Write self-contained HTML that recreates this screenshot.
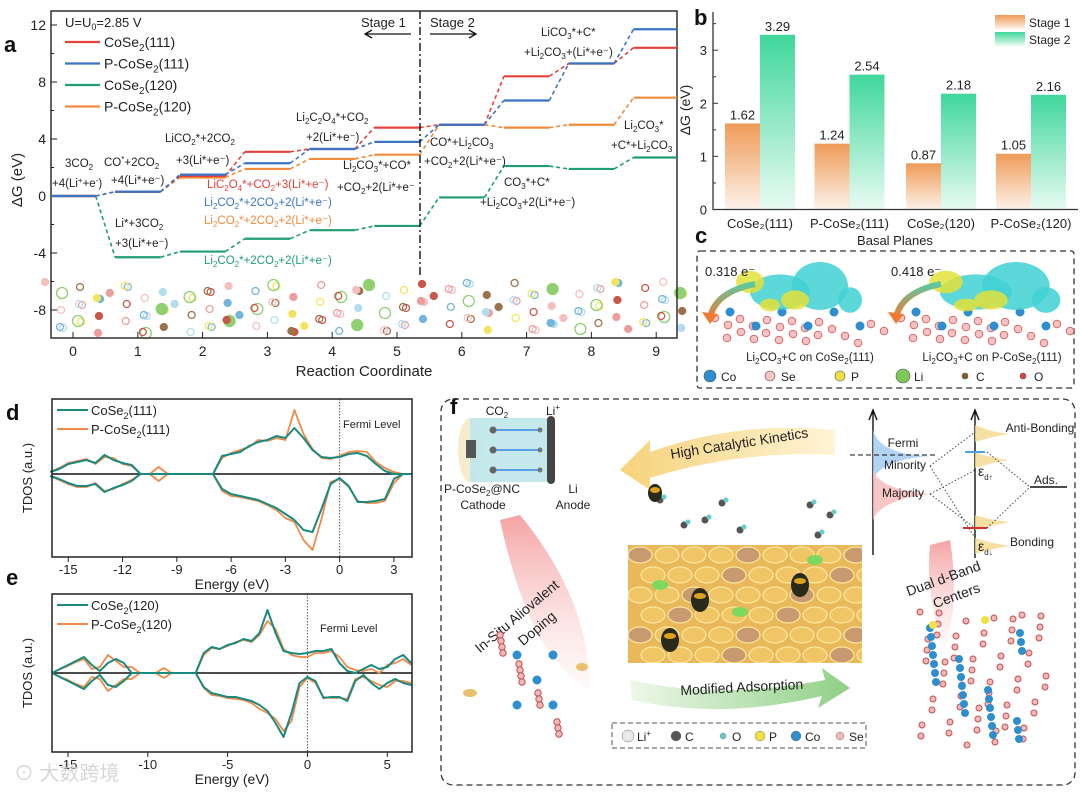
<!DOCTYPE html>
<html><head><meta charset="utf-8"><style>
html,body{margin:0;padding:0;background:#fff;}
svg{display:block;font-family:"Liberation Sans",sans-serif;}
</style></head><body>
<svg id="fig" width="1080" height="793" viewBox="0 0 1080 793" xmlns="http://www.w3.org/2000/svg">
<defs>
<linearGradient id="gOr" x1="0" y1="0" x2="0" y2="1"><stop offset="0" stop-color="#ef9b58"/><stop offset="1" stop-color="#fdf2ea"/></linearGradient>
<linearGradient id="gGr" x1="0" y1="0" x2="0" y2="1"><stop offset="0" stop-color="#3fd79b"/><stop offset="1" stop-color="#e9fbf3"/></linearGradient>
<linearGradient id="gPink" x1="0" y1="0" x2="0" y2="1"><stop offset="0" stop-color="#f28c8c"/><stop offset="1" stop-color="#fde8e8" stop-opacity="0.3"/></linearGradient>
<linearGradient id="gYel" x1="1" y1="0" x2="0" y2="0"><stop offset="0" stop-color="#fff4d6"/><stop offset="1" stop-color="#f6d27a"/></linearGradient>
<linearGradient id="gGrn" x1="0" y1="0" x2="1" y2="0"><stop offset="0" stop-color="#eef8ea"/><stop offset="1" stop-color="#8fcf86"/></linearGradient>
<linearGradient id="gArc" x1="0" y1="0" x2="0" y2="1"><stop offset="0" stop-color="#5cc8a0"/><stop offset="1" stop-color="#f07a30"/></linearGradient>
<clipPath id="hcClip"><rect x="628" y="545" width="234" height="118"/></clipPath>
</defs>
</svg>
<script>
// ---------- Panel a data ----------
const aSteps = [0,1,2,3,4,5,6,7,8,9];
const aCoSe2_111 = [0,0.3,1.4,3.1,3.3,4.8,5.0,8.4,9.3,10.4];
const aPCoSe2_111 = [0,0.3,1.5,2.3,3.3,3.8,5.0,6.7,9.3,11.7];
const aCoSe2_120 = [0,-4.3,-3.9,-3.0,-2.4,-2.1,-0.1,2.1,1.9,2.7];
const aPCoSe2_120 = [0,0.3,1.3,1.9,2.6,2.9,5.0,4.8,5.0,6.9];
const aYTicks = [-8,-4,0,4,8,12];
// ---------- Panel b data ----------
const bCats = ["CoSe₂(111)","P-CoSe₂(111)","CoSe₂(120)","P-CoSe₂(120)"];
const bStage1 = [1.62,1.24,0.87,1.05];
const bStage2 = [3.29,2.54,2.18,2.16];
const bYTicks = [0,1,2,3];
// ---------- Panel d data ----------
const dE = [-16,-15.5,-15,-14.5,-14,-13.5,-13,-12.5,-12,-11.5,-11,-10.5,-10,-9.5,-9,-8.5,-8,-7.5,-7,-6.5,-6,-5.5,-5,-4.5,-4,-3.5,-3,-2.5,-2,-1.5,-1,-0.5,0,0.5,1,1.5,2,2.5,3,3.5,4];
const dTealUp = [2,5,10,12,14,11,19,14,11,9,0,0,0,0,0,0,0,0,0,18,20,22,28,32,34,38,36,46,36,24,17,16,17,20,21,18,10,3,0,0,0];
const dOrUp   = [2,6,11,13,15,10,17,16,10,8,0,0,7,0,0,0,0,0,0,16,21,24,27,34,33,36,34,64,40,25,16,15,18,22,23,22,12,6,2,0,0];
const dTealDn = [2,5,9,12,12,10,18,14,11,7,0,0,0,0,0,0,0,0,0,15,20,22,24,26,30,34,40,46,56,58,35,10,4,12,28,28,27,25,5,0,0];
const dOrDn   = [2,6,10,13,13,9,17,15,10,6,0,0,7,0,0,0,0,0,0,17,22,23,25,27,31,36,44,48,66,76,45,8,5,13,27,29,29,27,9,0,0];
const dXTicks = [-15,-12,-9,-6,-3,0,3];
// ---------- Panel e data ----------
const eE = [-16,-15.5,-15,-14.5,-14,-13.5,-13,-12.5,-12,-11.5,-11,-10.5,-10,-9.5,-9,-8.5,-8,-7.5,-7,-6.5,-6,-5.5,-5,-4.5,-4,-3.5,-3,-2.5,-2,-1.5,-1,-0.5,0,0.5,1,1.5,2,2.5,3,3.5,4,4.5,5,5.5,6,6.5];
const eTealUp = [0,4,8,12,16,8,2,10,14,10,0,0,0,0,0,0,0,0,0,20,26,24,28,30,34,32,40,63,40,22,20,19,20,22,22,24,10,2,0,4,8,4,6,14,18,10];
const eOrUp   = [0,4,7,11,14,4,6,18,12,6,6,0,0,0,5,0,0,0,0,18,25,24,27,31,33,31,38,52,44,24,18,16,16,20,20,22,16,6,3,2,4,0,8,10,14,8];
const eTealDn = [0,4,8,12,16,8,2,12,14,8,0,0,0,0,0,0,0,0,0,14,20,22,24,24,26,28,32,38,50,64,40,10,4,8,25,24,24,28,8,2,10,16,10,6,10,12];
const eOrDn   = [0,4,7,11,14,4,6,18,12,6,6,0,0,0,5,0,0,0,0,15,22,23,25,26,27,30,36,40,46,58,48,14,5,10,24,25,25,26,6,4,8,12,14,8,8,10];
const eXTicks = [-15,-10,-5,0,5];

const NS="http://www.w3.org/2000/svg";
const svg=document.getElementById('fig');
function mk(tag,attrs,parent){const el=document.createElementNS(NS,tag);for(const k in attrs)el.setAttribute(k,attrs[k]);(parent||svg).appendChild(el);return el;}
function tx(x,y,s,attrs,parent){const el=mk('text',Object.assign({x:x,y:y,'font-size':12,fill:'#222'},attrs||{}),parent);el.innerHTML=s;return el;}
function grp(){return mk('g',{});}

// ================= PANEL A =================
const axA=x=>73+x*64.8, ayA=v=>196-v*14.25;
let gA=grp();
let lab=tx(4,52,'a',{'font-size':22,'font-weight':'bold',fill:'#111'},gA);
let st=mk('g',{opacity:0.85},gA);
const atomCols=['#f3b4b4','#e98c8c','#a6d6ea','#5aa9d6','#f0e040','#7ec85a','#c0392b','#8b5a2b'];
for(let i=0;i<10;i++){for(let k=0;k<14;k++){const cx=axA(i)-28+((k*37)%56);const cy=282+((k*23+i*11)%52);const c=atomCols[(k+i)%8];const a=mk('circle',{cx:cx,cy:cy,r:(c=='#7ec85a')?5.5:3.5,fill:(k%3==0)?c:'none',stroke:c,'stroke-width':1.3},st);}}
let fr=mk('rect',{x:51,y:11,width:626,height:327,fill:'none',stroke:'#222','stroke-width':1.4},gA);
aYTicks.forEach(v=>{let t=mk('line',{x1:51,x2:57,y1:ayA(v),y2:ayA(v),stroke:'#222'},gA);
 let l=tx(46,ayA(v)+5,v,{'text-anchor':'end','font-size':14},gA);
 let m=mk('line',{x1:51,x2:54,y1:ayA(v+2),y2:ayA(v+2),stroke:'#222'},gA);});
aSteps.forEach(s=>{let t=mk('line',{x1:axA(s),x2:axA(s),y1:338,y2:332,stroke:'#222'},gA);
 let l=tx(axA(s),356,s,{'text-anchor':'middle','font-size':14},gA);});
let xt=tx(364,376,'Reaction Coordinate',{'text-anchor':'middle','font-size':15},gA);
let yt=tx(22,180,'ΔG (eV)',{'text-anchor':'middle','font-size':15,transform:'rotate(-90 22 180)'},gA);
const aSeries=[[aCoSe2_120,'#1f9e6f','CoSe2(120)'],[aPCoSe2_120,'#f08a3c','P-CoSe2(120)'],[aCoSe2_111,'#e6403a','CoSe2(111)'],[aPCoSe2_111,'#3b74c4','P-CoSe2(111)']];
aSeries.forEach(([vals,col,nm])=>{let g=mk('g',{},gA);
 vals.forEach((v,i)=>{const x0=i==0?51:axA(aSteps[i])-0.35*64.8,x1=i==9?677:axA(aSteps[i])+0.35*64.8;
  let s=mk('line',{x1:x0,x2:x1,y1:ayA(v),y2:ayA(v),stroke:col,'stroke-width':2.2},g);
  if(i<vals.length-1){let c=mk('line',{x1:x1,y1:ayA(v),x2:axA(aSteps[i+1])-0.35*64.8,y2:ayA(vals[i+1]),stroke:col,'stroke-width':1.6,'stroke-dasharray':'4 3'},g);}});});
let dv=mk('line',{x1:420,x2:420,y1:11,y2:278,stroke:'#111','stroke-width':1.4,'stroke-dasharray':'8 3 2 3'},gA);
tx(361,27,'Stage 1',{'font-size':13},gA);
tx(430,27,'Stage 2',{'font-size':13},gA);
let ar1=mk('path',{d:'M411 34 L366 34 M372 30 L365 34 L372 38',stroke:'#111',fill:'none','stroke-width':1.3},gA);
let ar2=mk('path',{d:'M430 34 L475 34 M469 30 L476 34 L469 38',stroke:'#111',fill:'none','stroke-width':1.3},gA);
tx(65,27,'U=U<tspan font-size="9" dy="3">0</tspan><tspan dy="-3">=2.85 V</tspan>',{'font-size':13},gA);
[['CoSe<tspan font-size="10" dy="4">2</tspan><tspan dy="-4">(111)</tspan>','#e6403a'],['P-CoSe<tspan font-size="10" dy="4">2</tspan><tspan dy="-4">(111)</tspan>','#3b74c4'],['CoSe<tspan font-size="10" dy="4">2</tspan><tspan dy="-4">(120)</tspan>','#1f9e6f'],['P-CoSe<tspan font-size="10" dy="4">2</tspan><tspan dy="-4">(120)</tspan>','#f08a3c']].forEach((e,i)=>{
 let g=mk('g',{},gA);
 mk('line',{x1:65,x2:100,y1:42+i*21.5,y2:42+i*21.5,stroke:e[1],'stroke-width':2.2},g);tx(104,47+i*21.5,e[0],{'font-size':14},g);});
const aLabels=[[65,167,'3CO<tspan font-size="8" dy="3">2</tspan>','#222'],[52,187,'+4(Li<tspan font-size="8" dy="-4">+</tspan><tspan dy="4">+e</tspan><tspan font-size="8" dy="-4">-</tspan><tspan dy="4">)</tspan>','#222'],
[104,166,'CO<tspan font-size="8" dy="-4">*</tspan><tspan dy="4">+2CO</tspan><tspan font-size="8" dy="3">2</tspan>','#222'],[111,184,'+4(Li*+e⁻)','#222'],
[165,142,'LiCO<tspan font-size="8" dy="3">2</tspan><tspan dy="-3">*+2CO</tspan><tspan font-size="8" dy="3">2</tspan>','#222'],[176,164,'+3(Li*+e⁻)','#222'],
[296,121,'Li<tspan font-size="8" dy="3">2</tspan><tspan dy="-3">C</tspan><tspan font-size="8" dy="3">2</tspan><tspan dy="-3">O</tspan><tspan font-size="8" dy="3">4</tspan><tspan dy="-3">*+CO</tspan><tspan font-size="8" dy="3">2</tspan>','#222'],[306,141,'+2(Li*+e⁻)','#222'],
[343,169,'Li<tspan font-size="8" dy="3">2</tspan><tspan dy="-3">CO</tspan><tspan font-size="8" dy="3">3</tspan><tspan dy="-3">*+CO*</tspan>','#222'],[337,191,'+CO<tspan font-size="8" dy="3">2</tspan><tspan dy="-3">+2(Li*+e⁻</tspan>','#222'],
[207,188,'LiC<tspan font-size="8" dy="3">2</tspan><tspan dy="-3">O</tspan><tspan font-size="8" dy="3">4</tspan><tspan dy="-3">*+CO</tspan><tspan font-size="8" dy="3">2</tspan><tspan dy="-3">+3(Li*+e⁻)</tspan>','#e6403a'],
[204,206,'Li<tspan font-size="8" dy="3">2</tspan><tspan dy="-3">CO</tspan><tspan font-size="8" dy="3">2</tspan><tspan dy="-3">*+2CO</tspan><tspan font-size="8" dy="3">2</tspan><tspan dy="-3">+2(Li*+e⁻)</tspan>','#3b74c4'],
[204,224,'Li<tspan font-size="8" dy="3">2</tspan><tspan dy="-3">CO</tspan><tspan font-size="8" dy="3">2</tspan><tspan dy="-3">*+2CO</tspan><tspan font-size="8" dy="3">2</tspan><tspan dy="-3">+2(Li*+e⁻)</tspan>','#f08a3c'],
[204,264,'Li<tspan font-size="8" dy="3">2</tspan><tspan dy="-3">CO</tspan><tspan font-size="8" dy="3">2</tspan><tspan dy="-3">*+2CO</tspan><tspan font-size="8" dy="3">2</tspan><tspan dy="-3">+2(Li*+e⁻)</tspan>','#1f9e6f'],
[115,227,'Li*+3CO<tspan font-size="8" dy="3">2</tspan>','#222'],[115,247,'+3(Li*+e⁻)','#222'],
[430,146,'CO*+Li<tspan font-size="8" dy="3">2</tspan><tspan dy="-3">CO</tspan><tspan font-size="8" dy="3">3</tspan>','#222'],[424,165,'+CO<tspan font-size="8" dy="3">2</tspan><tspan dy="-3">+2(Li*+e⁻)</tspan>','#222'],
[541,36,'LiCO<tspan font-size="8" dy="3">3</tspan><tspan dy="-3">*+C*</tspan>','#222'],[524,56,'+Li<tspan font-size="8" dy="3">2</tspan><tspan dy="-3">CO</tspan><tspan font-size="8" dy="3">3</tspan><tspan dy="-3">+(Li*+e⁻)</tspan>','#222'],
[624,129,'Li<tspan font-size="8" dy="3">2</tspan><tspan dy="-3">CO</tspan><tspan font-size="8" dy="3">3</tspan><tspan dy="-3">*</tspan>','#222'],[611,149,'+C*+Li<tspan font-size="8" dy="3">2</tspan><tspan dy="-3">CO</tspan><tspan font-size="8" dy="3">3</tspan>','#222'],
[504,186,'CO<tspan font-size="8" dy="3">3</tspan><tspan dy="-3">*+C*</tspan>','#222'],[480,206,'+Li<tspan font-size="8" dy="3">2</tspan><tspan dy="-3">CO</tspan><tspan font-size="8" dy="3">3</tspan><tspan dy="-3">+2(Li*+e⁻)</tspan>','#222']];
aLabels.forEach(l=>{let t=tx(l[0],l[1],l[2],{'font-size':11.5,fill:l[3]},gA);});

// ================= PANEL B =================
const byB=v=>209.5-v*53.1, bGroup=[760,849.5,941,1031], bW=35;
let gB=grp();
tx(694,25,'b',{'font-size':22,'font-weight':'bold',fill:'#111'},gB);
bCats.forEach((c,i)=>{const cx=bGroup[i];
 let r1=mk('rect',{x:cx-bW,y:byB(bStage1[i]),width:bW,height:209.5-byB(bStage1[i]),fill:'url(#gOr)'},gB);
 let r2=mk('rect',{x:cx,y:byB(bStage2[i]),width:bW,height:209.5-byB(bStage2[i]),fill:'url(#gGr)'},gB);
 let v1=tx(cx-bW/2,byB(bStage1[i])-4,bStage1[i].toFixed(2),{'text-anchor':'middle','font-size':13},gB);
 let v2=tx(cx+bW/2,byB(bStage2[i])-4,bStage2[i].toFixed(2),{'text-anchor':'middle','font-size':13},gB);
 let cl=tx(cx,228,c,{'text-anchor':'middle','font-size':13},gB);});
let bax=mk('path',{d:'M713 12 L713 209.5 L1078 209.5',stroke:'#333',fill:'none','stroke-width':1.3},gB);
bYTicks.forEach(v=>{mk('line',{x1:713,x2:718,y1:byB(v),y2:byB(v),stroke:'#333'},gB);
 mk('line',{x1:713,x2:716,y1:byB(v+0.5),y2:byB(v+0.5),stroke:'#333'},gB);
 tx(707,byB(v)+5,v,{'text-anchor':'end','font-size':13},gB);});
tx(690,110,'ΔG (eV)',{'text-anchor':'middle','font-size':14,transform:'rotate(-90 690 110)'},gB);
tx(895,245,'Basal Planes',{'text-anchor':'middle','font-size':13},gB);
mk('rect',{x:995,y:15,width:30,height:14,fill:'url(#gOr)'},gB);
tx(1029,27,'Stage 1',{'font-size':12},gB);
mk('rect',{x:995,y:32,width:30,height:14,fill:'url(#gGr)'},gB);
tx(1029,44,'Stage 2',{'font-size':12},gB);

// ================= PANEL C =================
let gC=grp();
tx(695,243,'c',{'font-size':22,'font-weight':'bold',fill:'#111'},gC);
mk('rect',{x:697,y:251,width:377,height:137,fill:'none',stroke:'#333','stroke-dasharray':'6 4','stroke-width':1.3,rx:3},gC);
[[700,'0.318 e⁻'],[886,'0.418 e⁻']].forEach((p,k)=>{
 const ox=p[0]+10;
 for(let j=0;j<22;j++){mk('circle',{cx:ox+(j*13)%170+5,cy:318+(j*7)%26,r:3.8,fill:'#f5c3c3',stroke:'#d46a6a','stroke-width':1},gC);}
 for(let j=0;j<6;j++){mk('circle',{cx:ox+20+j*26,cy:312+(j%2)*14,r:4.5,fill:'#2d8fd0'},gC);}
 [[70,292,30,22,'#3fd1d4'],[110,286,28,30,'#3fd1d4'],[40,282,14,14,'#e2e23a'],[85,300,14,12,'#e2e23a'],[60,305,10,8,'#e2e23a'],[140,300,12,16,'#3fd1d4']].forEach(b=>{mk('ellipse',{cx:ox+b[0]+(k?10:0),cy:b[1],rx:b[2]*(k?1.2:1),ry:b[3]*0.8,fill:b[4],opacity:0.85},gC);});
 tx(p[0]+5,276,p[1],{'font-size':13},gC);
 mk('path',{d:`M${p[0]+55} 284 Q${p[0]+15} 292 ${p[0]+10} 318`,stroke:'url(#gArc)','stroke-width':6,fill:'none'},gC);
 mk('path',{d:`M${p[0]+2} 312 L${p[0]+10} 324 L${p[0]+18} 314 Z`,fill:'#f07a30'},gC);
});
tx(810,361,'Li<tspan font-size="8" dy="3">2</tspan><tspan dy="-3">CO</tspan><tspan font-size="8" dy="3">3</tspan><tspan dy="-3">+C on CoSe</tspan><tspan font-size="8" dy="3">2</tspan><tspan dy="-3">(111)</tspan>',{'font-size':11.5,'text-anchor':'middle'},gC);
tx(992,361,'Li<tspan font-size="8" dy="3">2</tspan><tspan dy="-3">CO</tspan><tspan font-size="8" dy="3">3</tspan><tspan dy="-3">+C on P-CoSe</tspan><tspan font-size="8" dy="3">2</tspan><tspan dy="-3">(111)</tspan>',{'font-size':11.5,'text-anchor':'middle'},gC);
[[710,'#2d8fd0','Co',6],[770,'#f5c3c3','Se',5],[840,'#f0e040','P',5],[903,'#7ec85a','Li',7],[965,'#8b5a2b','C',3],[1023,'#e04040','O',3]].forEach(a=>{
 let g=mk('g',{},gC);
 mk('circle',{cx:a[0],cy:376,r:a[3],fill:a[1],stroke:'#555','stroke-width':0.6},g);tx(a[0]+11,381,a[2],{'font-size':12},g);});

// ================= PANELS D & E =================
function dos(name,top,bot,zero,E,xmin,xmax,ticks,series,legend,label,labY,fermiX,fermiY){
 const g=grp();
 const ax=e=>52+(e-xmin)/(xmax-xmin)*360;
 tx(6,labY,label,{'font-size':22,'font-weight':'bold',fill:'#111'},g);
 mk('line',{x1:52,x2:412,y1:zero,y2:zero,stroke:'#111','stroke-width':1.4},g);
 mk('line',{x1:ax(0),x2:ax(0),y1:top,y2:bot,stroke:'#555','stroke-dasharray':'1.5 1.5'},g);
 series.forEach(([up,dn,col,w])=>{
  const pu=E.map((e,i)=>`${ax(e).toFixed(1)},${(zero-up[i]).toFixed(1)}`).join(' ');
  const pd=E.map((e,i)=>`${ax(e).toFixed(1)},${(zero+dn[i]).toFixed(1)}`).join(' ');
  let l1=mk('polyline',{points:pu,fill:'none',stroke:col,'stroke-width':w,'stroke-linejoin':'round'},g);
  let l2=mk('polyline',{points:pd,fill:'none',stroke:col,'stroke-width':w,'stroke-linejoin':'round'},g);});
 mk('rect',{x:52,y:top,width:360,height:bot-top,fill:'none',stroke:'#222','stroke-width':1.5},g);
 ticks.forEach(t=>{mk('line',{x1:ax(t),x2:ax(t),y1:bot,y2:bot+5,stroke:'#222'},g);
  tx(ax(t),bot+17,t,{'text-anchor':'middle','font-size':13},g);});
 tx(232,bot+32,'Energy (eV)',{'text-anchor':'middle','font-size':14},g);
 tx(32,(top+bot)/2,'TDOS (a.u.)',{'text-anchor':'middle','font-size':13,transform:`rotate(-90 32 ${(top+bot)/2})`},g);
 legend.forEach((L,i)=>{let lg=mk('g',{},g);
  mk('line',{x1:57,x2:88,y1:top+11+i*19,y2:top+11+i*19,stroke:L[1],'stroke-width':2},lg);tx(91,top+16+i*19,L[0],{'font-size':13},lg);});
 tx(fermiX,fermiY,'Fermi Level',{'font-size':11},g);
}
dos('panel-d-tdos-111',399,557,474,dE,-15.9,4,dXTicks,[[dOrUp,dOrDn,'#f08a4a',1.8],[dTealUp,dTealDn,'#1a8a80',2]],
 [['CoSe<tspan font-size="9" dy="4">2</tspan><tspan dy="-4">(111)</tspan>','#1a8a80'],['P-CoSe<tspan font-size="9" dy="4">2</tspan><tspan dy="-4">(111)</tspan>','#f08a4a']],'d',420,343,428);
dos('panel-e-tdos-120',594,752,673,eE,-16,6.55,eXTicks,[[eOrUp,eOrDn,'#f08a4a',1.8],[eTealUp,eTealDn,'#1a8a80',2]],
 [['CoSe<tspan font-size="9" dy="4">2</tspan><tspan dy="-4">(120)</tspan>','#1a8a80'],['P-CoSe<tspan font-size="9" dy="4">2</tspan><tspan dy="-4">(120)</tspan>','#f08a4a']],'e',585,320,632);

// ================= PANEL F =================
let gF=grp();
tx(450,414,'f',{'font-size':22,'font-weight':'bold',fill:'#111'},gF);
mk('rect',{x:441,y:399,width:634,height:386,rx:12,fill:'none',stroke:'#333','stroke-dasharray':'6 4','stroke-width':1.3},gF);
let bat=mk('g',{},gF);
mk('ellipse',{cx:470,cy:450,rx:12,ry:32,fill:'#f4eccc'},bat);
mk('rect',{x:470,y:418,width:80,height:64,fill:'#bfe6ea',opacity:0.9},bat);
mk('rect',{x:466,y:440,width:10,height:18,fill:'#555'},bat);
mk('rect',{x:547,y:416,width:8,height:68,rx:4,fill:'#444'},bat);
[430,450,470].forEach(y=>{mk('line',{x1:540,x2:490,y1:y,y2:y,stroke:'#5aa0e8','stroke-width':2},bat);mk('circle',{cx:493,cy:y,r:3.5,fill:'#666'},bat);mk('circle',{cx:540,cy:y,r:2.5,fill:'#777'},bat);});
tx(497,415,'CO<tspan font-size="8" dy="3">2</tspan>',{'font-size':12,'text-anchor':'middle'},gF);
tx(553,415,'Li<tspan font-size="8" dy="-5">+</tspan>',{'font-size':12,'text-anchor':'middle'},gF);
tx(482,493,'P-CoSe<tspan font-size="8" dy="3">2</tspan><tspan dy="-3">@NC</tspan>',{'font-size':12,'text-anchor':'middle'},gF);
tx(483,509,'Cathode',{'font-size':12,'text-anchor':'middle'},gF);
tx(573,493,'Li',{'font-size':12,'text-anchor':'middle'},gF);
tx(573,509,'Anode',{'font-size':12,'text-anchor':'middle'},gF);
mk('path',{d:'M620 470 L650 440 L650 452 Q740 420 835 430 L835 455 Q740 450 650 478 L650 490 Z',fill:'url(#gYel)'},gF);
tx(740,448,'High Catalytic Kinetics',{'font-size':14,'text-anchor':'middle',transform:'rotate(-9 740 448)'},gF);
mk('path',{d:'M630 680 Q720 700 825 680 L822 668 L850 688 L818 708 L822 696 Q720 720 632 700 Z',fill:'url(#gGrn)'},gF);
tx(742,692,'Modified Adsorption',{'font-size':14,'text-anchor':'middle',transform:'rotate(-3 742 692)'},gF);
mk('path',{d:'M500 520 L520 515 Q590 600 590 690 Q530 660 500 520 Z',fill:'url(#gPink)',opacity:0.8},gF);
tx(520,620,'In-Situ Aliovalent',{'font-size':14,'text-anchor':'middle',transform:'rotate(-40 520 620)'},gF);
tx(540,632,'Doping',{'font-size':14,'text-anchor':'middle',transform:'rotate(-40 540 632)'},gF);
mk('path',{d:'M930 545 L950 540 Q960 600 945 650 Q925 600 930 545 Z',fill:'url(#gPink)',opacity:0.8},gF);
tx(945,583,'Dual d-Band',{'font-size':14,'text-anchor':'middle',transform:'rotate(-20 945 583)'},gF);
tx(958,600,'Centers',{'font-size':14,'text-anchor':'middle',transform:'rotate(-20 958 600)'},gF);
let hc=mk('g',{'clip-path':'url(#hcClip)'},gF);
mk('rect',{x:628,y:545,width:234,height:118,fill:'#e8b85a'},hc);
for(let r=0;r<6;r++)for(let c=0;c<9;c++){mk('ellipse',{cx:640+c*27+(r%2)*13,cy:555+r*20,rx:12,ry:8,fill:(r+c)%4==0?'#c99970':'#f0c565',stroke:'#fbe8a0','stroke-width':1.2},hc);}
[[700,600],[800,585],[670,640]].forEach(b=>{mk('ellipse',{cx:b[0],cy:b[1],rx:9,ry:12,fill:'#2a2a1a'},hc);mk('ellipse',{cx:b[0],cy:b[1]-4,rx:6,ry:3,fill:'#e0a020'},hc);});
[[740,612],[660,585],[815,560]].forEach(b=>{mk('ellipse',{cx:b[0],cy:b[1],rx:8,ry:5,fill:'#7ed860'},hc);});
let mol=mk('g',{},gF);
[[705,520],[684,525],[722,503],[810,505],[830,515],[818,535],[660,500],[740,530]].forEach(m=>{mk('circle',{cx:m[0],cy:m[1],r:3.5,fill:'#555'},mol);mk('circle',{cx:m[0]+4,cy:m[1]-3,r:2.5,fill:'#6cc'},mol);});
mk('ellipse',{cx:655,cy:493,rx:7,ry:9,fill:'#2a2a1a'},mol);mk('ellipse',{cx:655,cy:490,rx:5,ry:3,fill:'#e0a020'},mol);
let bd=mk('g',{},gF);
mk('path',{d:'M873 555 L873 412 M869 420 L873 410 L877 420 M975 558 L975 412 M971 420 L975 410 L979 420',stroke:'#111',fill:'none','stroke-width':1.4},bd);
mk('path',{d:'M873 430 Q880 455 930 456 Q880 460 873 480 Z',fill:'#9fc8f0',opacity:0.8},bd);
mk('path',{d:'M873 470 Q880 490 930 494 Q880 500 873 520 Z',fill:'#f7b8b8',opacity:0.8},bd);
mk('line',{x1:850,x2:935,y1:455,y2:455,stroke:'#111','stroke-dasharray':'5 3'},bd);
mk('path',{d:'M975 425 Q990 432 1010 434 Q990 437 975 442 Z M975 452 Q990 458 1010 460 Q990 463 975 468 Z M975 515 Q990 520 1010 522 Q990 526 975 530 Z M975 538 Q990 543 1010 546 Q990 549 975 554 Z',fill:'#f5d88c',opacity:0.8},bd);
mk('line',{x1:965,x2:985,y1:452,y2:452,stroke:'#4aa0e0','stroke-width':2},bd);
mk('line',{x1:963,x2:987,y1:528,y2:528,stroke:'#d83030','stroke-width':2},bd);
mk('line',{x1:1030,x2:1067,y1:487,y2:487,stroke:'#111','stroke-width':1.4},bd);
mk('path',{d:'M930 466 L975 432 M930 494 L975 470 M930 466 L975 538 M930 494 L975 528 M987 452 L1030 487 M987 528 L1030 487',stroke:'#444','stroke-dasharray':'1.5 2',fill:'none'},bd);
tx(903,447,'Fermi',{'font-size':12,'text-anchor':'middle'},bd);
tx(905,469,'Minority',{'font-size':12,'text-anchor':'middle'},bd);
tx(903,497,'Majority',{'font-size':12,'text-anchor':'middle'},bd);
tx(1040,432,'Anti-Bonding',{'font-size':12,'text-anchor':'middle'},bd);
tx(1046,484,'Ads.',{'font-size':12,'text-anchor':'middle'},bd);
tx(1032,546,'Bonding',{'font-size':12,'text-anchor':'middle'},bd);
tx(978,476,'ε<tspan font-size="8" dy="4">d↑</tspan>',{'font-size':14},bd);
tx(978,551,'ε<tspan font-size="8" dy="4">d↓</tspan>',{'font-size':14},bd);
let cr=mk('g',{},gF);
for(let i=0;i<14;i++){const x=500+(i*19)%75,y=635+(i*29)%110;mk('circle',{cx:x,cy:y,r:3.2,fill:'#f0b8b8',stroke:'#c05050','stroke-width':1},cr);}
[[517,655],[553,655],[537,680],[517,705],[553,705]].forEach(p=>mk('circle',{cx:p[0],cy:p[1],r:4.5,fill:'#2d8fd0'},cr));
for(let i=0;i<60;i++){const x=920+(i*17)%130,y=612+(i*23)%135;mk('circle',{cx:x,cy:y,r:3,fill:'#f0b8b8',stroke:'#c05050','stroke-width':1},cr);}
for(let i=0;i<26;i++){const x=930+(i*29)%115,y=628+(i*31)%115;mk('circle',{cx:x,cy:y,r:4,fill:'#2d8fd0'},cr);}
mk('circle',{cx:933,cy:625,r:4,fill:'#f0e040'},cr);mk('circle',{cx:985,cy:620,r:4,fill:'#f0e040'},cr);
mk('ellipse',{cx:470,cy:693,rx:7,ry:4,fill:'#e8c070'},cr);mk('ellipse',{cx:582,cy:667,rx:6,ry:4,fill:'#e8c070'},cr);
let lg=mk('g',{},gF);
mk('rect',{x:612,y:723,width:254,height:25,fill:'none',stroke:'#555','stroke-dasharray':'5 3'},lg);
[[628,'#e8e8e4','Li<tspan font-size="8" dy="-5">+</tspan>',6],[676,'#555','C',5],[723,'#66cccc','O',3],[760,'#f0e040','P',5],[796,'#2d8fd0','Co',5],[840,'#f0b8b8','Se',4]].forEach(a=>{
 mk('circle',{cx:a[0],cy:736,r:a[3],fill:a[1],stroke:'#777','stroke-width':0.5},lg);tx(a[0]+9,741,a[2],{'font-size':12},lg);});
tx(14,780,'⊙ 大数跨境',{'font-family':'"Liberation Sans","Noto Sans CJK SC",sans-serif','font-size':20,fill:'#ccc',opacity:0.8});
</script>
</body></html>
